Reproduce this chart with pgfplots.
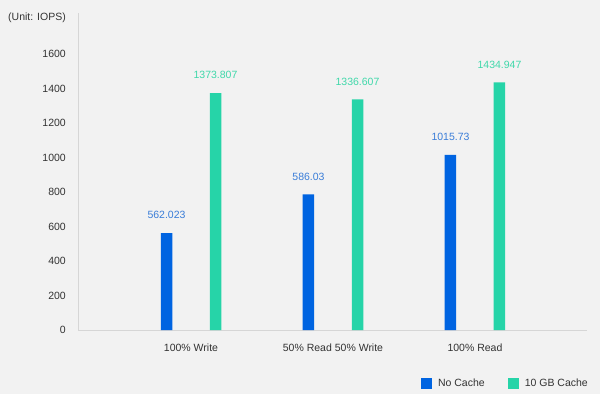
\documentclass[border=0pt]{standalone}
\usepackage{pgfplots}
\pgfplotsset{compat=1.18}
\usepackage{fontspec}
\setmainfont{Liberation Sans}
\definecolor{bg}{HTML}{F2F2F2}
\definecolor{barblue}{HTML}{0064E1}
\definecolor{bargreen}{HTML}{26D4A8}
\definecolor{lblblue}{HTML}{3A7DD8}
\definecolor{lblgreen}{HTML}{40D8AA}
\definecolor{axisgray}{HTML}{D6D6D6}
\definecolor{ticktext}{HTML}{333333}
\begin{document}
\begin{tikzpicture}
\fill[bg] (0,0) rectangle (600pt,394pt);
\node[anchor=east, inner sep=0pt, font=\fontsize{10.5}{12}\selectfont, text=ticktext] at (66pt,376pt) {(Unit: IOPS)};
\begin{axis}[
  at={(78pt,64pt)}, anchor=south west,
  scale only axis, width=509pt, height=317pt,
  xmin=-0.796, xmax=2.789, ymin=0, ymax=1837.7,
  axis x line=bottom, axis y line=left,
  axis line style={draw=axisgray, line width=0.8pt, -},
  major tick length=0pt,
  xtick={0,1,2},
  xticklabels={100\% Write, 50\% Read 50\% Write, 100\% Read},
  ytick={0,200,...,1600},
  /pgf/number format/assume math mode=true,
  /pgf/number format/1000 sep={},
  tick label style={font=\fontsize{10.5}{12}\selectfont, text=ticktext, inner sep=0pt},
  yticklabel style={anchor=east, xshift=-12pt},
  xticklabel style={anchor=north, yshift=-14pt},
  ybar, bar width=11.5pt,
  point meta=explicit symbolic,
  nodes near coords={\pgfplotspointmeta},
  every node near coord/.append style={font=\fontsize{10.5}{12}\selectfont, inner sep=0pt, anchor=south, yshift=14pt},
  legend columns=2,
  legend style={at={(1,0)}, anchor=north east, xshift=3pt, yshift=-47pt, draw=none, fill=none,
    inner sep=0pt, font=\fontsize{10.5}{12}\selectfont, text=ticktext,
    column sep=4pt, /tikz/every even column/.append style={column sep=21pt}},
  legend image code/.code={\fill[#1] (0pt,-5.5pt) rectangle (11pt,5.5pt);},
]
\addplot[fill=barblue, draw=none, bar shift=-24.5pt,
  every node near coord/.append style={text=lblblue}]
  coordinates {(0,562.023) [562.023] (1,786) [586.03] (2,1015.73) [1015.73]};
\addlegendentry{No Cache}
\addplot[fill=bargreen, draw=none, bar shift=24.5pt,
  every node near coord/.append style={text=lblgreen}]
  coordinates {(0,1373.807) [1373.807] (1,1336.607) [1336.607] (2,1434.947) [1434.947]};
\addlegendentry{10 GB Cache}
\end{axis}
\pgfresetboundingbox
\useasboundingbox (0,0) rectangle (600pt,394pt);
\end{tikzpicture}
\end{document}
